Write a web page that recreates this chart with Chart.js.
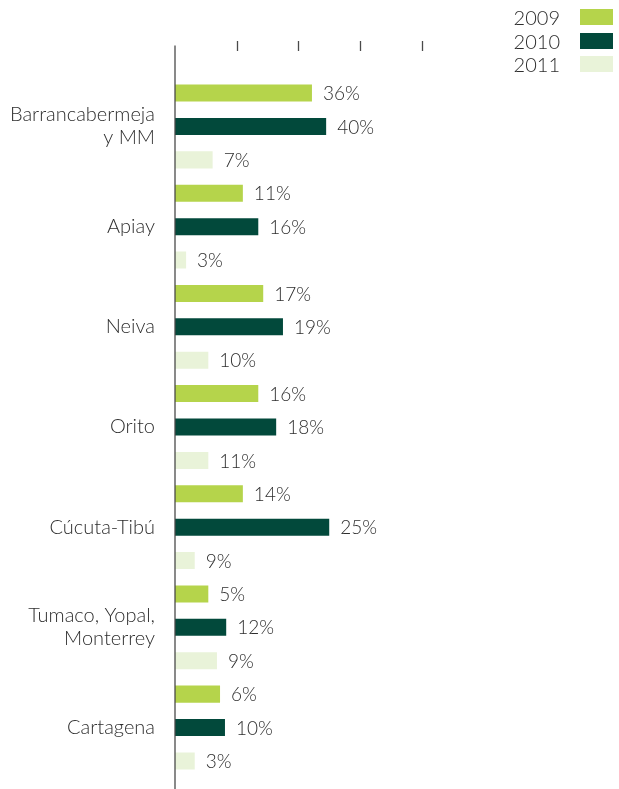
<!DOCTYPE html>
<html>
<head>
<meta charset="utf-8">
<script src="https://cdn.jsdelivr.net/npm/chart.js@4.4.1/dist/chart.umd.min.js"></script>
<style>
  body { margin: 0; background: #fff; }
  #wrap { position: relative; width: 619px; height: 789px; }
  #chart-legend { position: absolute; top: 5px; left: 480px; width: 133px; }
  .key-item { display: flex; justify-content: flex-end; align-items: center; height: 23.7px; }
  .key-item p { margin: 0 20px 0 0; font: 300 20px Lato, "Liberation Sans", sans-serif; color: #2e2e2e; }
  .key-item span { display: block; width: 33px; height: 16px; }
</style>
</head>
<body>
<div id="wrap">
  <canvas id="sitesChart" width="619" height="789"></canvas>
  <div id="chart-legend"></div>
</div>
<script>
// categories and series
const categories = [['Barrancabermeja', 'y MM'], 'Apiay', 'Neiva', 'Orito', 'Cúcuta-Tibú', ['Tumaco, Yopal,', 'Monterrey'], 'Cartagena'];
const years = ['2009', '2010', '2011'];
// bar lengths (as drawn)
const bars2009 = [22.2, 11.0, 14.3, 13.5, 11.0, 5.4, 7.3];
const bars2010 = [24.5, 13.5, 17.5, 16.4, 25.0, 8.3, 8.1];
const bars2011 = [6.1, 1.8, 5.4, 5.4, 3.2, 6.8, 3.2];
// printed labels
const pct2009 = [36, 11, 17, 16, 14, 5, 6];
const pct2010 = [40, 16, 19, 18, 25, 12, 10];
const pct2011 = [7, 3, 10, 11, 9, 9, 3];
const tickValues = [10, 20, 30, 40];

const barColor = ['#b5d44b', '#02493b', '#e9f3d9'];
const textColor = '#2e2e2e';
const fontFamily = 'Lato, "Liberation Sans", sans-serif';

const allBars = [bars2009, bars2010, bars2011];
const allPct = [pct2009, pct2010, pct2011];

var datasets = [];
for (var i = 0; i < years.length; i++) {
    datasets.push({
        label: years[i],
        data: allBars[i],
        pct: allPct[i],
        backgroundColor: barColor[i],
        borderWidth: 0,
        barPercentage: 0.51,
        categoryPercentage: 1
    });
}

// axis line, top ticks and value labels
const decorations = {
    id: 'decorations',
    afterDatasetsDraw(chart) {
        const c = chart.ctx;
        const x = chart.scales.x;
        c.save();
        c.strokeStyle = '#4a4a4a';
        c.lineWidth = 1.3;
        const x0 = x.getPixelForValue(0);
        c.beginPath();
        c.moveTo(x0, 45.5);
        c.lineTo(x0, chart.height);
        c.stroke();
        tickValues.forEach(function (v) {
            const px = Math.round(x.getPixelForValue(v)) + 0.5;
            c.beginPath();
            c.moveTo(px, 41);
            c.lineTo(px, 51);
            c.stroke();
        });
        c.fillStyle = textColor;
        c.font = '300 19px ' + fontFamily;
        c.textBaseline = 'middle';
        c.textAlign = 'left';
        chart.data.datasets.forEach(function (ds, di) {
            chart.getDatasetMeta(di).data.forEach(function (bar, j) {
                c.fillText(ds.pct[j] + '%', bar.x + 11, bar.y + 1);
            });
        });
        c.restore();
    }
};

var ctx = document.getElementById('sitesChart').getContext('2d');
var myChart = new Chart(ctx, {
    type: 'bar',
    data: { labels: categories, datasets: datasets },
    options: {
        indexAxis: 'y',
        responsive: false,
        animation: false,
        layout: { padding: { top: 76.4, bottom: 11.4, left: 0, right: 43 } },
        plugins: { legend: { display: false }, tooltip: { enabled: false } },
        scales: {
            x: { display: false, min: 0, max: 65 },
            y: {
                grid: { display: false, drawTicks: false },
                border: { display: false },
                ticks: {
                    color: textColor,
                    padding: 20,
                    font: { family: fontFamily, size: 20, weight: 300, lineHeight: 1.15 }
                },
                afterFit: function (scale) {
                    scale.width = 175;
                    scale.paddingTop = 0;
                    scale.paddingBottom = 0;
                }
            }
        }
    },
    plugins: [decorations]
});

function buildLegend(label, color) {
    const legendChart = document.getElementById('chart-legend');
    const legendItem = document.createElement('div');
    legendItem.setAttribute('class', 'key-item');
    const labelTitle = document.createElement('p');
    labelTitle.innerHTML = label;
    legendItem.appendChild(labelTitle);
    const box = document.createElement('span');
    box.style.backgroundColor = color;
    legendItem.appendChild(box);
    legendChart.appendChild(legendItem);
}
for (var k = 0; k < years.length; k++) buildLegend(years[k], barColor[k]);
</script>
</body>
</html>
